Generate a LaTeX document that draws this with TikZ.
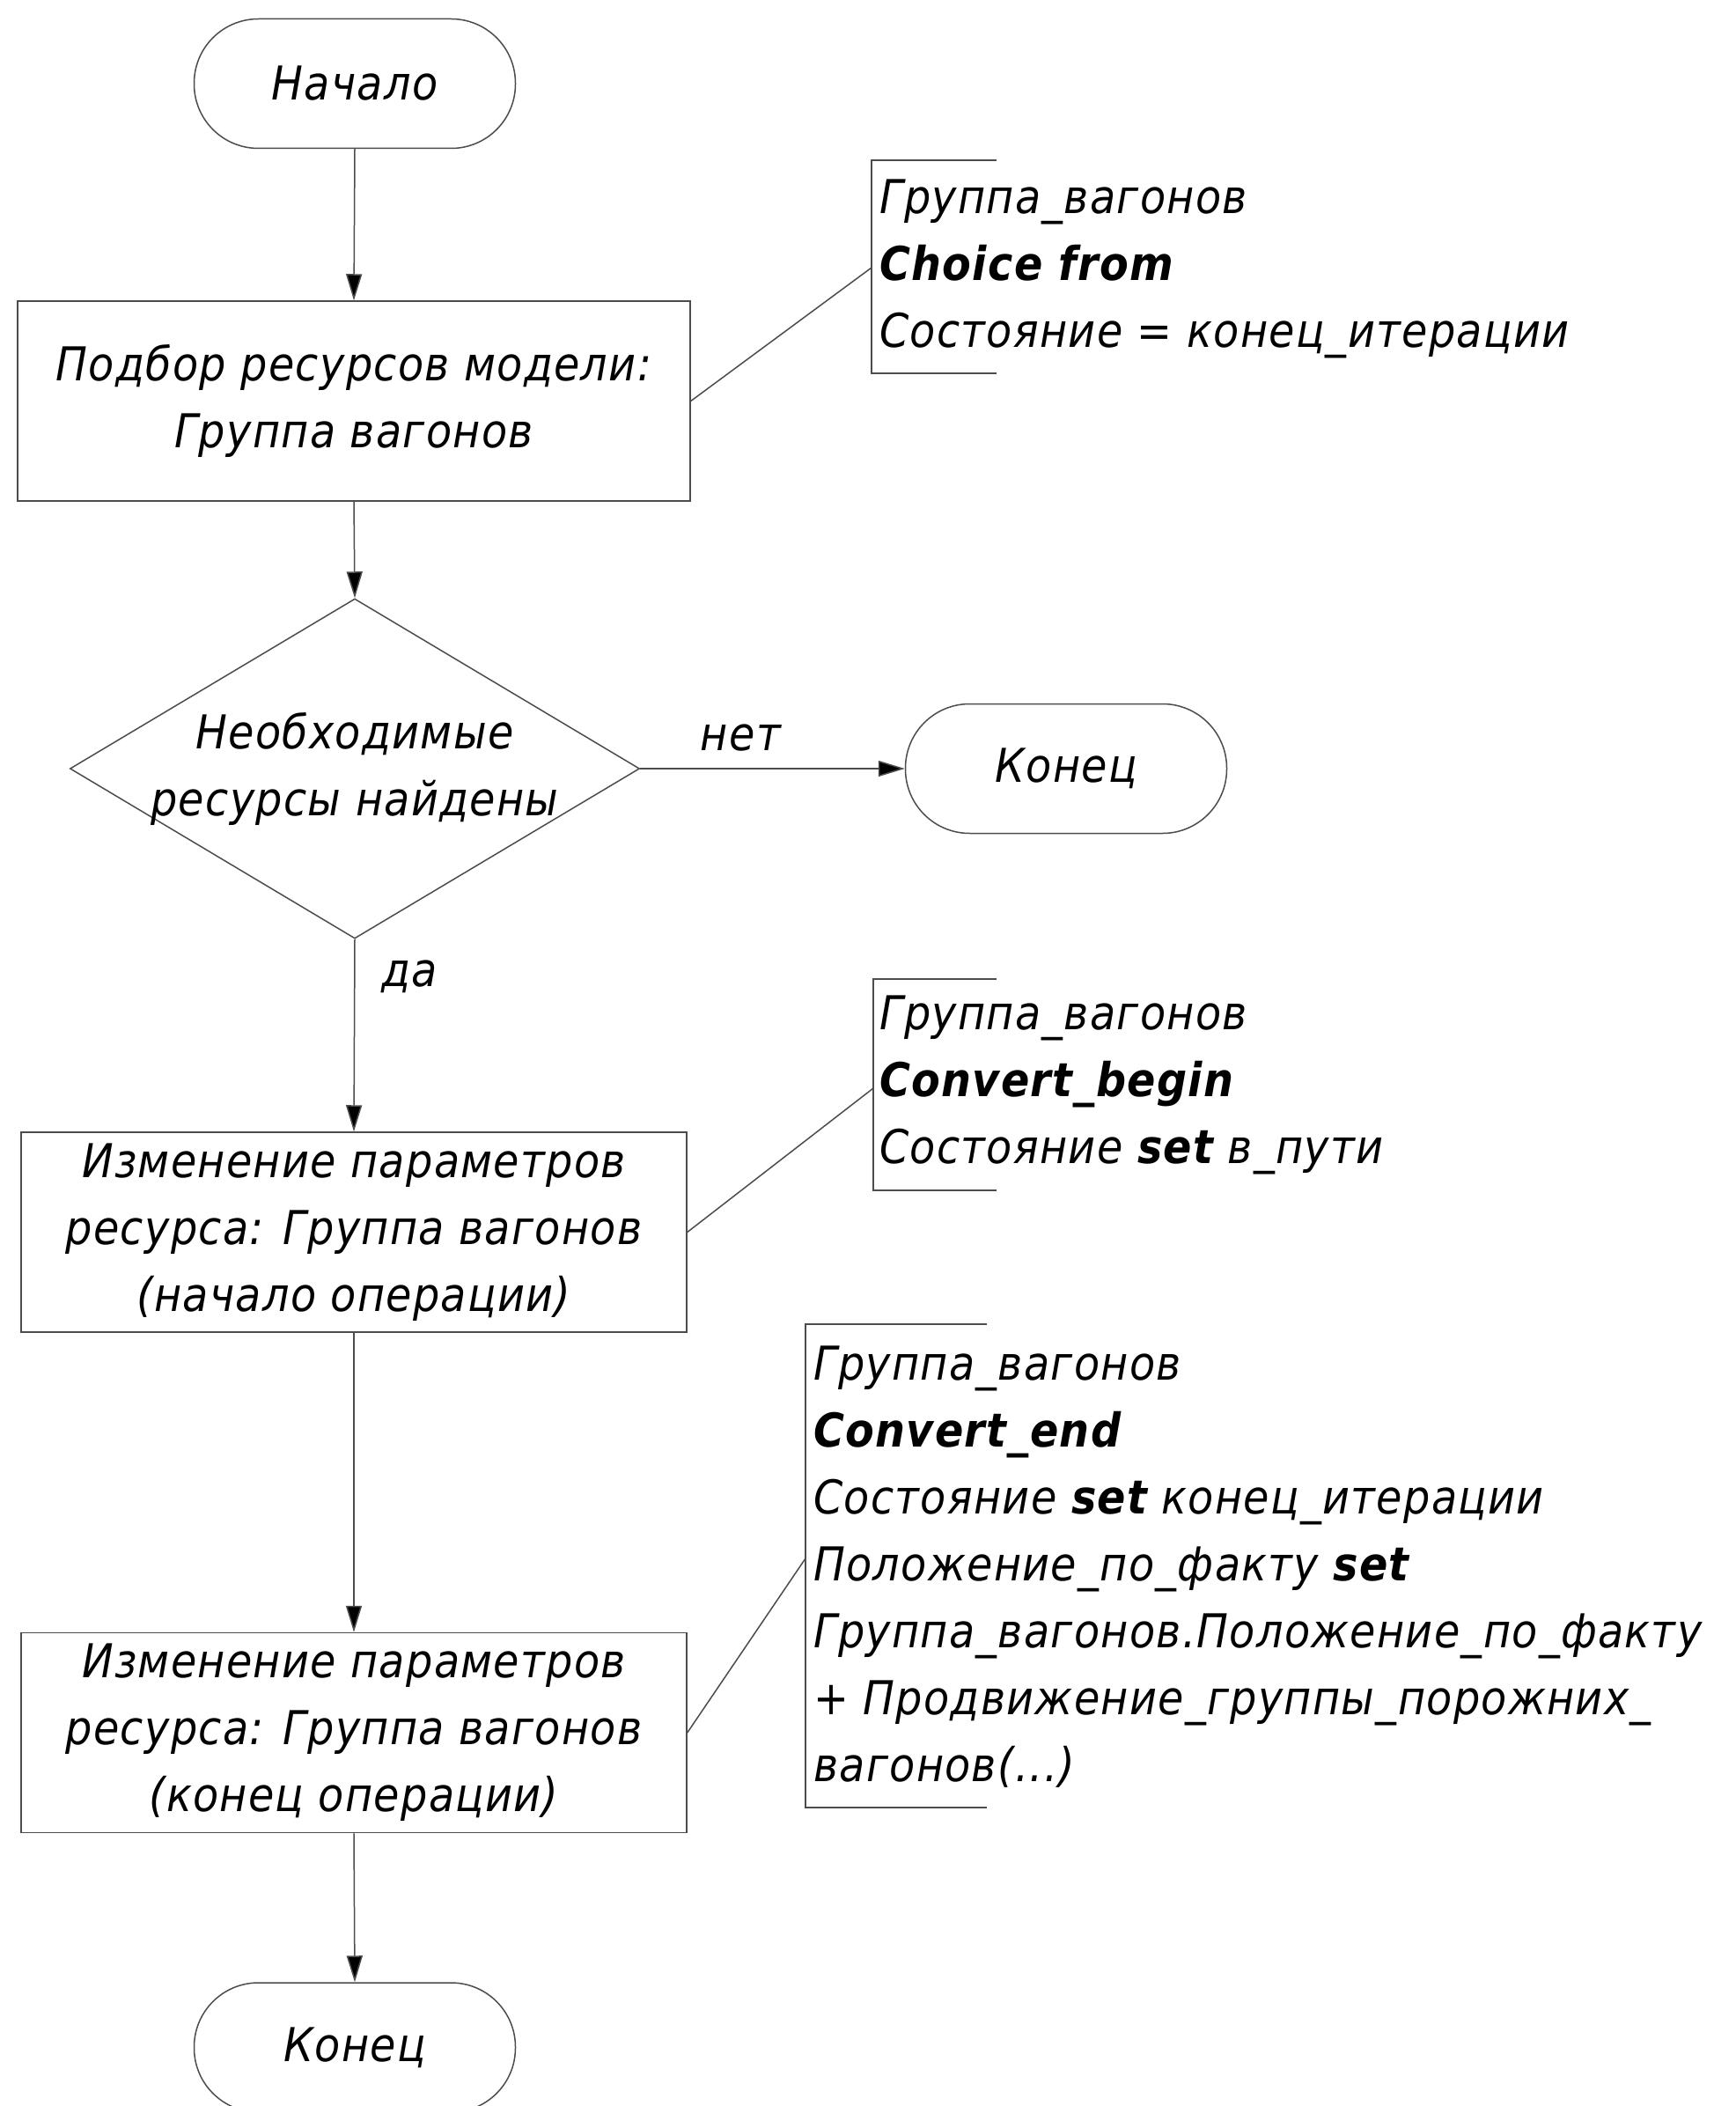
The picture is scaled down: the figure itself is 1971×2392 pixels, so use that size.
\documentclass[tikz,border=0pt]{standalone}
\usepackage{fontspec}
\setmainfont{DejaVu Sans Condensed}[LetterSpace=2.5,ItalicFont={DejaVu Sans Condensed Oblique},BoldFont={DejaVu Sans Condensed Bold},BoldItalicFont={DejaVu Sans Condensed Bold Oblique}]
\usetikzlibrary{arrows.meta,shapes.geometric}
\begin{document}
\begin{tikzpicture}[x=1pt,y=-1pt,
  every node/.style={font=\fontsize{53}{76}\selectfont\itshape, inner sep=0pt},
  line/.style={line width=1.5pt, draw=black!70},
  arr/.style={line, -{Triangle[length=30pt,width=18pt,fill=black]}},
  term/.style={line, rounded corners=73pt, minimum width=365pt, minimum height=147pt},
  proc/.style={line, minimum height=227pt, align=center},
  dec/.style={line, diamond, minimum width=647pt, minimum height=386pt},
  ann/.style={anchor=west, align=left}]
\fill[white] (0,0) rectangle (1971,2392);
\useasboundingbox (0,0) rectangle (1971,2392);

% main flow
\node[term] (start) at (403,95) {Начало};
\node[proc, minimum width=764pt] (box1) at (402,455.5) {Подбор ресурсов модели:\\Группа вагонов};
\node[dec] (dec) at (403,873) {};
\node (dectext) at (403,873) [align=center] {Необходимые\\ресурсы найдены};
\node[term] (endA) at (1211,873) {Конец};
\node[proc, minimum width=756pt] (box2) at (402,1399.5) {Изменение параметров\\ресурса: Группа вагонов\\(начало операции)};
\node[proc, minimum width=756pt] (box3) at (402,1968) {Изменение параметров\\ресурса: Группа вагонов\\(конец операции)};
\node[term] (endB) at (403,2325.5) {Конец};

\draw[arr] (start.south) -- (box1.north);
\draw[arr] (box1.south) -- (dec.north);
\draw[arr] (dec.east) -- node[pos=0.38, yshift=35pt] {нет} (endA.west);
\draw[arr] (dec.south) -- node[pos=0.195, xshift=62pt] {да} (box2.north);
\draw[arr] (box2.south) -- (box3.north);
\draw[arr] (box3.south) -- (endB.north);

% annotation 1
\node[ann] (ann1) at (999,305) {Группа\_вагонов\\\textbf{Choice from}\\Состояние = конец\_итерации};
\coordinate (b1t) at (1132,182);
\coordinate (b1b) at (1132,424);
\coordinate (b1m) at (990,304);
\draw[line] (b1t) -- (990,182) -- (990,424) -- (b1b);
\draw[line] (box1.east) -- (b1m);

% annotation 2
\node[ann] (ann2) at (999,1232) {Группа\_вагонов\\\textbf{Convert\_begin}\\Состояние \textbf{set} в\_пути};
\coordinate (b2t) at (1132,1112);
\coordinate (b2b) at (1132,1352);
\coordinate (b2m) at (992,1236);
\draw[line] (b2t) -- (992,1112) -- (992,1352) -- (b2b);
\draw[line] (box2.east) -- (b2m);

% annotation 3
\node[ann] (ann3) at (924,1780) {Группа\_вагонов\\\textbf{Convert\_end}\\Состояние \textbf{set} конец\_итерации\\Положение\_по\_факту \textbf{set}\\Группа\_вагонов.Положение\_по\_факту\\+ Продвижение\_группы\_порожних\_\\вагонов(...)};
\coordinate (b3t) at (1121,1504);
\coordinate (b3b) at (1121,2053);
\coordinate (b3m) at (915,1770);
\draw[line] (b3t) -- (915,1504) -- (915,2053) -- (b3b);
\draw[line] (box3.east) -- (b3m);
\end{tikzpicture}
\end{document}
